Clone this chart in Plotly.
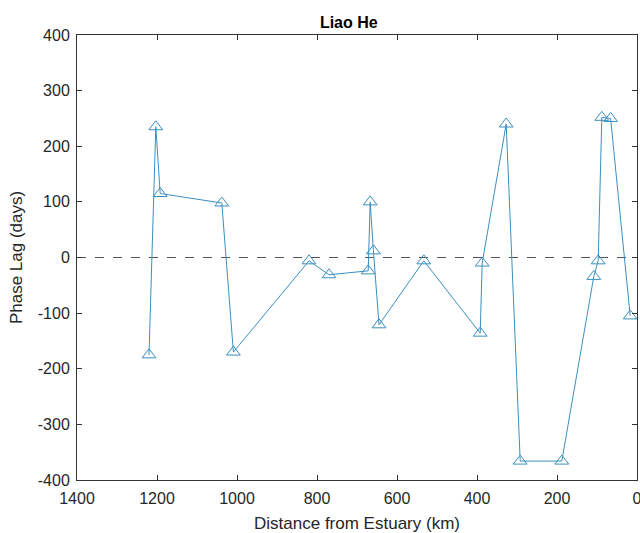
import plotly.graph_objects as go

distance_km = [1220, 1203, 1192, 1038, 1009, 820, 770, 672, 667, 659, 645, 533,
               392, 387, 327, 292, 188, 108, 97, 88, 66, 17]
phase_lag_days = [-175, 235, 115, 98, -170, -6, -31, -24, 100, 12, -121, -6,
                  -136, -10, 240, -366, -366, -34, -6, 252, 250, -105]

x_ticks = [1400, 1200, 1000, 800, 600, 400, 200, 0]
y_ticks = [-400, -300, -200, -100, 0, 100, 200, 300, 400]

line_color = "#3a8fc0"
font_family = "Liberation Sans, Arial, sans-serif"

fig = go.Figure()
fig.add_trace(go.Scatter(
    x=distance_km, y=phase_lag_days, mode="lines+markers",
    line=dict(color=line_color, width=1),
    marker=dict(symbol="triangle-up-open", size=12, color=line_color,
                line=dict(width=1, color=line_color)),
    showlegend=False, cliponaxis=False,
))
fig.add_shape(type="line", xref="paper", x0=0, x1=1, yref="y", y0=0, y1=0,
              line=dict(color="#555555", width=1, dash="dash"), layer="below")

axis_common = dict(
    showgrid=False, zeroline=False, showline=True, linecolor="#333333",
    linewidth=1, mirror="ticks", ticks="inside", ticklen=5, tickcolor="#333333",
    tickfont=dict(family=font_family, size=16, color="#262626"),
    automargin=False, ticklabeloverflow="allow", tickmode="array",
)

fig.update_layout(
    width=640, height=533,
    margin=dict(l=77, r=3, t=35, b=53),
    paper_bgcolor="white", plot_bgcolor="white",
    title=dict(text="<b>Liao He</b>", x=0.545, xanchor="center", y=0.958,
               yanchor="middle",
               font=dict(family=font_family, size=16, color="black")),
    xaxis=dict(range=[1400, 0], tickvals=x_ticks,
               ticktext=[str(v) for v in x_ticks], ticklabelstandoff=4,
               title=dict(text="Distance from Estuary (km)", standoff=10,
                          font=dict(family=font_family, size=17, color="#262626")),
               **axis_common),
    yaxis=dict(range=[-400, 400], tickvals=y_ticks,
               ticktext=[str(v) for v in y_ticks], ticklabelstandoff=3,
               title=dict(text="Phase Lag (days)", standoff=10,
                          font=dict(family=font_family, size=17, color="#262626")),
               **axis_common),
)

fig.write_html("out.html")
